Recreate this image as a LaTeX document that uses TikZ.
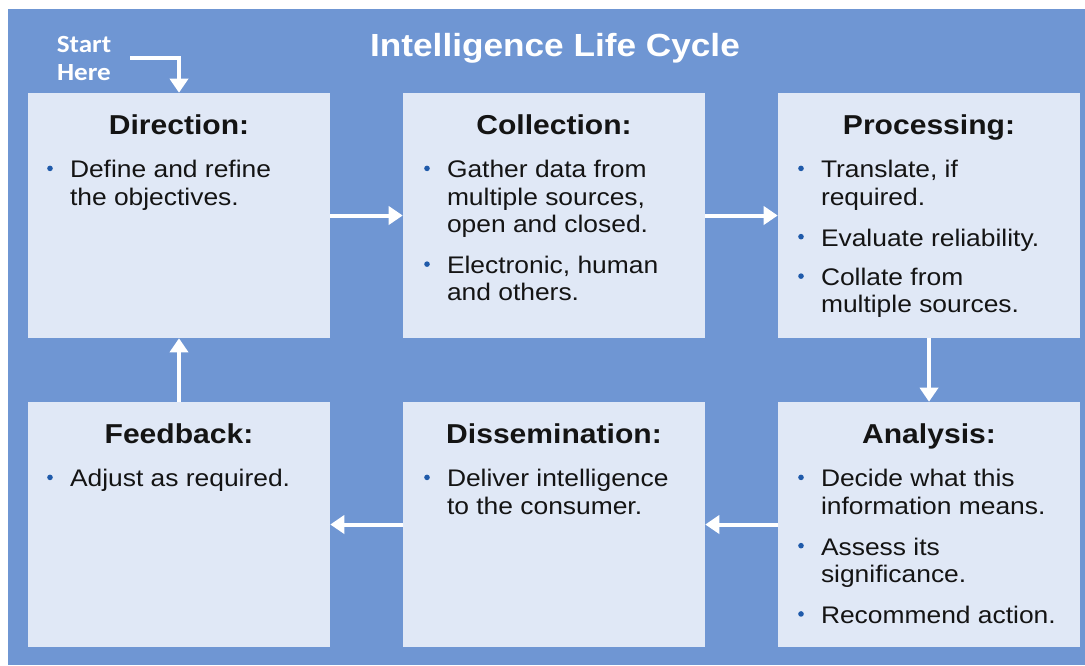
\documentclass[tikz,border=0pt]{standalone}
\usepackage{fontspec}
\setmainfont{Liberation Sans}[FakeStretch=1.1]
\newfontfamily\startfont{Carlito}[FakeStretch=1.1]
\usetikzlibrary{arrows.meta,calc}

\definecolor{bluebg}{RGB}{111,150,211}
\definecolor{boxfill}{RGB}{224,232,246}
\definecolor{bul}{RGB}{31,90,170}
\definecolor{ink}{RGB}{20,20,20}

% round bullet hung to the left of an item
\newcommand\bl{\leavevmode\llap{\tikz[baseline=0pt]{\fill[bul] (0pt,7pt) circle (2.1pt);}\hspace{12.9pt}}}
% body of a stage: first baseline is the node's base
\newcommand\stagebody[1]{\parbox[t]{230pt}{\fontsize{18}{20.6}\selectfont\raggedright #1}}

\tikzset{
  stagebox/.style={draw=none, fill=boxfill, rectangle, inner sep=0pt,
    minimum width=226.5pt, minimum height=183.75pt},
  stagetitle/.style={anchor=base, inner sep=0pt, text=ink,
    font=\fontsize{20.5}{24}\selectfont\bfseries},
  stagetext/.style={anchor=base west, inner sep=0pt, text=ink},
  flow/.style={draw=white, line width=3pt,
    -{Triangle[width=13.5pt,length=10.5pt]}},
}

\begin{document}
\begin{tikzpicture}[x=0.75pt, y=-0.75pt]
  \useasboundingbox (0,0) rectangle (1085,665);
  \fill[white] (0,0) rectangle (1085,665);
  \fill[bluebg] (8,9) rectangle (1085,665);

  % heading
  \node[anchor=base, inner sep=0pt, text=white,
        font=\fontsize{24}{28}\selectfont\bfseries] (title) at (555,56)
        {Intelligence Life Cycle};

  % stage boxes
  \node[stagebox] (dir) at (179,215.5) {};
  \node[stagebox] (col) at (554,215.5) {};
  \node[stagebox] (pro) at (929,215.5) {};
  \node[stagebox] (fb)  at (179,524.5) {};
  \node[stagebox] (dis) at (554,524.5) {};
  \node[stagebox] (ana) at (929,524.5) {};

  % stage titles
  \node[stagetitle] (dirT) at ($(dir.north)+(0,42)$) {Direction:};
  \node[stagetitle] (colT) at ($(col.north)+(0,42)$) {Collection:};
  \node[stagetitle] (proT) at ($(pro.north)+(0,42)$) {Processing:};
  \node[stagetitle] (fbT)  at ($(fb.north)+(0,42)$)  {Feedback:};
  \node[stagetitle] (disT) at ($(dis.north)+(0,42)$) {Dissemination:};
  \node[stagetitle] (anaT) at ($(ana.north)+(0,42)$) {Analysis:};

  % stage bodies
  \node[stagetext] (dirB) at ($(dir.north west)+(42,85)$) {\stagebody{%
    \bl Define and refine\\the objectives.}};
  \node[stagetext] (colB) at ($(col.north west)+(44,85)$) {\stagebody{%
    \bl Gather data from\\multiple sources,\\open and closed.\\[10pt]
    \bl Electronic, human\\and others.}};
  \node[stagetext] (proB) at ($(pro.north west)+(43,85)$) {\stagebody{%
    \bl Translate, if\\required.\\[10pt]
    \bl Evaluate reliability.\\[9pt]
    \bl Collate from\\multiple sources.}};
  \node[stagetext] (fbB) at ($(fb.north west)+(42,85)$) {\stagebody{%
    \bl Adjust as required.}};
  \node[stagetext] (disB) at ($(dis.north west)+(44,85)$) {\stagebody{%
    \bl Deliver intelligence\\to the consumer.}};
  \node[stagetext] (anaB) at ($(ana.north west)+(43,85)$) {\stagebody{%
    \bl Decide what this\\information means.\\[10pt]
    \bl Assess its\\significance.\\[10pt]
    \bl Recommend action.}};

  % start marker
  \node[anchor=base, inner sep=0pt, text=white] (start) at (84,52)
    {\parbox[t]{80pt}{\centering\startfont\bfseries\fontsize{18.5}{21}\selectfont Start\\Here}};
  \coordinate (s0) at (130,58);
  \draw[flow, line join=miter] (s0) -| (dir.north);

  % cycle connectors
  \draw[flow] (dir.east)  -- (col.west);
  \draw[flow] (col.east)  -- (pro.west);
  \draw[flow] (pro.south) -- (ana.north);
  \draw[flow] (ana.west)  -- (dis.east);
  \draw[flow] (dis.west)  -- (fb.east);
  \draw[flow] (fb.north)  -- (dir.south);
\end{tikzpicture}
\end{document}
